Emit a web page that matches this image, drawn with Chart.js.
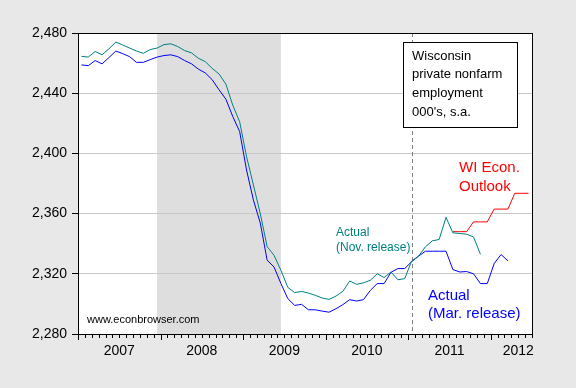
<!DOCTYPE html>
<html lang="en">
<head>
  <meta charset="UTF-8">
  <title>Wisconsin private nonfarm employment</title>
  <script src="https://cdn.jsdelivr.net/npm/chart.js"></script>
  <style>
    body {
      margin: 0;
      background: #e8e8e8;
    }
    #wrap {
      width: 576px;
      height: 388px;
    }
  </style>
</head>
<body>
  <div id="wrap"><canvas id="empChart"></canvas></div>

  <script>
    // monthly observations, Jan 2007 = index 0
    const yearLabels = ['2007', '2008', '2009', '2010', '2011', '2012'];
    const yearTickPos = [6, 18, 30, 42, 54, 64];

    const novRelease = [
      2464.5, 2464, 2467.7, 2465.5, 2469.5, 2474, 2472, 2470, 2468, 2466.5, 2469, 2470,
      2472.3, 2472.8, 2471, 2468.3, 2466.8, 2463.2, 2461, 2456.5, 2452.8, 2446, 2432, 2421,
      2398, 2379, 2360, 2338, 2332.3, 2322.3, 2311, 2307.5, 2308.3, 2307.2, 2305.7, 2303.9,
      2303, 2305.2, 2308.3, 2315.2, 2313, 2314, 2315.7, 2320, 2317.5, 2321.2, 2316, 2316.8,
      2328.5, 2331.7, 2337.9, 2341.9, 2342.8, 2357.5, 2347.2, 2346.8, 2346.3, 2344.5, 2333
    ];

    const marRelease = [
      2458.8, 2458.3, 2461.7, 2459.5, 2463.7, 2468, 2466.3, 2464.3, 2460.5, 2460.5, 2462.3, 2464,
      2465, 2465.5, 2464.3, 2461.7, 2459.5, 2456, 2453.5, 2449, 2442.3, 2436, 2424.5, 2414.5,
      2389, 2369, 2353.7, 2329, 2324.5, 2313.5, 2303.5, 2299, 2299.7, 2296.1, 2296.1, 2295.2,
      2294.5, 2296.8, 2299.5, 2302.8, 2301.9, 2302.8, 2309, 2313.5, 2313.5, 2321, 2323.5, 2323.5,
      2328, 2331.7, 2335, 2335, 2335, 2335, 2322.8, 2321.2, 2321.5, 2320, 2313.5, 2313.5,
      2326.8, 2332.8, 2328.6
    ];

    const outlookStart = 54; // Jul 2011
    const outlook = [
      2348, 2348, 2348, 2354.5, 2354.5, 2354.5, 2363, 2363, 2363, 2373.5, 2373.5, 2373.5
    ];

    const recessionFrom = 11.5; // Dec 2007
    const recessionTo = 29.5;   // Jun 2009
    const forecastLine = 48.5;  // Jan 2011

    const toPoints = (arr, start) => arr.map((v, i) => ({ x: start + i + 0.5, y: v }));

    const FONT = "'Liberation Sans', Arial, sans-serif";

    const decor = {
      id: 'decor',
      beforeDraw(chart) {
        const { ctx, chartArea: a, scales: { x } } = chart;
        ctx.save();
        ctx.fillStyle = '#ffffff';
        ctx.fillRect(a.left, a.top, a.right - a.left, a.bottom - a.top);
        const x1 = x.getPixelForValue(recessionFrom);
        const x2 = x.getPixelForValue(recessionTo);
        ctx.fillStyle = '#dedede';
        ctx.fillRect(x1, a.top, x2 - x1, a.bottom - a.top);
        ctx.restore();
      },
      beforeDatasetsDraw(chart) {
        const { ctx, chartArea: a, scales: { x } } = chart;
        const fx = Math.round(x.getPixelForValue(forecastLine)) + 0.5;
        ctx.save();
        ctx.strokeStyle = '#808080';
        ctx.lineWidth = 1;
        ctx.setLineDash([4, 3]);
        ctx.beginPath();
        ctx.moveTo(fx, a.top);
        ctx.lineTo(fx, a.bottom);
        ctx.stroke();
        ctx.restore();
      },
      afterDraw(chart) {
        const { ctx, chartArea: a, scales: { x } } = chart;
        ctx.save();
        // frame
        ctx.strokeStyle = '#000';
        ctx.lineWidth = 1;
        ctx.strokeRect(Math.round(a.left) + 0.5, Math.round(a.top) + 0.5,
          Math.round(a.right - a.left), Math.round(a.bottom - a.top));
        // monthly ticks
        ctx.beginPath();
        for (let k = 0; k <= 66; k++) {
          const px = Math.round(x.getPixelForValue(k)) + 0.5;
          const len = k % 12 === 0 ? 6 : 4;
          ctx.moveTo(px, a.bottom);
          ctx.lineTo(px, a.bottom + len);
        }
        ctx.stroke();

        // caption box
        ctx.fillStyle = '#fff';
        ctx.fillRect(403, 42, 114, 85);
        ctx.strokeRect(403.5, 42.5, 114, 85);
        ctx.fillStyle = '#000';
        ctx.font = '13px ' + FONT;
        ctx.textBaseline = 'middle';
        ctx.textAlign = 'left';
        ['Wisconsin', 'private nonfarm', 'employment', "000's, s.a."].forEach((t, i) => {
          ctx.fillText(t, 412, 56 + i * 18.7);
        });

        ctx.font = '15px ' + FONT;
        ctx.fillStyle = '#ff0000';
        ctx.fillText('WI Econ.', 459, 168);
        ctx.fillText('Outlook', 459, 187);

        ctx.fillStyle = '#0000ff';
        ctx.fillText('Actual', 428, 296);
        ctx.fillText('(Mar. release)', 428, 314);

        ctx.font = '12px ' + FONT;
        ctx.fillStyle = '#008080';
        ctx.fillText('Actual', 336, 233);
        ctx.fillText('(Nov. release)', 336, 248);

        ctx.font = '11px ' + FONT;
        ctx.fillStyle = '#000';
        ctx.fillText('www.econbrowser.com', 87, 320);
        ctx.restore();
      }
    };

    new Chart(document.getElementById('empChart'), {
      type: 'line',
      data: {
        datasets: [
          {
            label: 'Actual (Nov. release)',
            data: toPoints(novRelease, 0),
            borderColor: '#008080',
            borderWidth: 1,
            pointRadius: 0,
            tension: 0
          },
          {
            label: 'Actual (Mar. release)',
            data: toPoints(marRelease, 0),
            borderColor: '#0000ff',
            borderWidth: 1,
            pointRadius: 0,
            tension: 0
          },
          {
            label: 'WI Econ. Outlook',
            data: toPoints(outlook, outlookStart),
            borderColor: '#ff0000',
            borderWidth: 1,
            pointRadius: 0,
            tension: 0
          }
        ]
      },
      options: {
        responsive: true,
        maintainAspectRatio: false,
        animation: false,
        layout: { padding: { left: 0, top: 33, right: 44, bottom: 0 } },
        plugins: {
          legend: { display: false },
          tooltip: { enabled: false }
        },
        scales: {
          x: {
            type: 'linear',
            min: 0,
            max: 66,
            afterBuildTicks(scale) {
              scale.ticks = yearTickPos.map(v => ({ value: v }));
            },
            afterFit(scale) { scale.height = 54; },
            grid: { display: false, drawTicks: false },
            border: { display: true, color: '#000' },
            ticks: {
              autoSkip: false,
              maxRotation: 0,
              padding: 9,
              color: '#000',
              font: { family: FONT, size: 14 },
              callback: (v, i) => yearLabels[i]
            }
          },
          y: {
            min: 2280,
            max: 2480,
            afterFit(scale) { scale.width = 78; },
            grid: { color: '#c8c8c8', tickColor: '#000', tickLength: 6 },
            border: { color: '#000' },
            ticks: {
              stepSize: 40,
              padding: 5,
              color: '#000',
              font: { family: FONT, size: 14 },
              callback: v => v.toLocaleString('en-US')
            }
          }
        }
      },
      plugins: [decor]
    });
  </script>
</body>
</html>
